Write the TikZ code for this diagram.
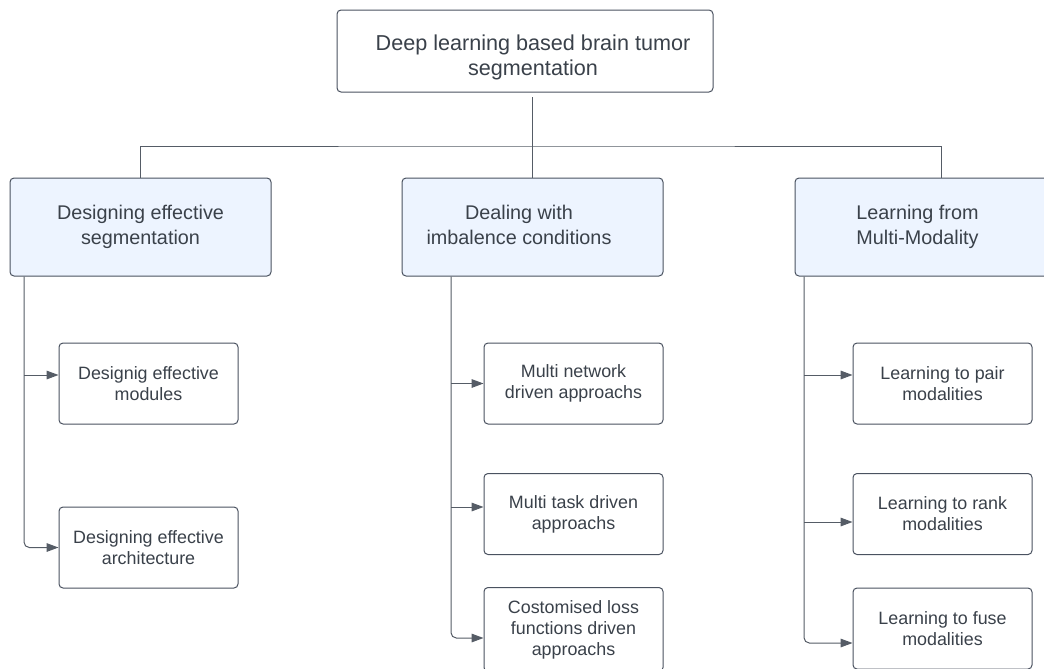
\documentclass[tikz,border=0pt]{standalone}
\usepackage{fontspec}
\setmainfont{Liberation Sans}
\usetikzlibrary{arrows.meta,calc}
\definecolor{ink}{HTML}{3A414A}
\definecolor{edge}{HTML}{4A5260}
\definecolor{catfill}{HTML}{EDF4FF}
\definecolor{wire}{HTML}{555C66}
\begin{document}
\begin{tikzpicture}[x=0.75pt,y=-0.75pt,
  box/.style={draw=edge, line width=0.75pt, rounded corners=3pt, fill=white, inner sep=0pt, text=ink, align=center},
  topbox/.style={box, minimum width=282pt, minimum height=61.5pt},
  catbox/.style={box, fill=catfill, minimum width=195.75pt, minimum height=73.5pt, font=\fontsize{14.85}{18.75}\selectfont},
  subbox/.style={box, minimum width=134.25pt, minimum height=60.75pt, font=\fontsize{13.4}{15.75}\selectfont},
  txt/.style={text=ink, align=center, inner sep=0pt},
  wire/.style={draw=wire, line width=0.75pt},
  arr/.style={wire, -{Triangle[length=9pt,width=6.5pt]}, rounded corners=4pt}
]
\useasboundingbox (0,0) rectangle (1044,668);
\clip (0,0) rectangle (1044,668);

% root
\node[topbox] (top) at (525,51) {};
\node[txt, font=\fontsize{16.2}{18.75}\selectfont] (toptext) at (533,57.5) {Deep learning based brain tumor\\segmentation};

% categories
\node[catbox] (cat1) at (140.5,227) {Designing effective\\segmentation};
\node[catbox] (cat2) at (532.5,227) {};
\node[txt, font=\fontsize{14.85}{18.75}\selectfont] (cat2text) at (519,225) {Dealing with\\imbalence conditions};
\node[catbox] (cat3) at (925.5,227) {};
\node[txt, font=\fontsize{14.85}{18.75}\selectfont] (cat3text) at (917.5,227) {Learning from\\Multi-Modality};

% sub nodes
\node[subbox] (s11) at (148.5,383.5) {Designig effective\\modules};
\node[subbox] (s12) at (148.5,547.5) {Designing effective\\architecture};
\node[subbox] (s21) at (573.5,383.5) {Multi network\\driven approachs};
\node[subbox] (s22) at (573.5,514) {Multi task driven\\approachs};
\node[subbox, minimum height=63pt] (s23) at (573.5,629.5) {Costomised loss\\functions driven\\approachs};
\node[subbox] (s31) at (942.5,383.5) {Learning to pair\\modalities};
\node[subbox] (s32) at (942.5,514) {Learning to rank\\modalities};
\node[subbox] (s33) at (942.5,628.5) {Learning to fuse\\modalities};

% top connectors
\coordinate (bus) at (532.5,146);
\coordinate (c3in) at (941,178);
\coordinate (rootout) at (532.5,97);
\draw[wire] (rootout) -- (cat2.north);
\draw[wire] (cat1.north) |- (bus) -| (c3in);

% branch 1
\coordinate (b1) at (24,276.5);
\coordinate (a11) at (24,375);
\coordinate (a12) at (24,547.5);
\draw[arr] (b1) |- (s12.west |- a12);
\draw[arr] (a11) -- (s11.west |- a11);

% branch 2
\coordinate (b2) at (451,276.5);
\coordinate (a21) at (451,383.5);
\coordinate (a22) at (451,507);
\coordinate (a23) at (451,638);
\draw[arr] (b2) |- (s23.west |- a23);
\draw[arr] (a21) -- (s21.west |- a21);
\draw[arr] (a22) -- (s22.west |- a22);

% branch 3
\coordinate (b3) at (804,276.5);
\coordinate (a31) at (804,375);
\coordinate (a32) at (804,522);
\coordinate (a33) at (804,643);
\draw[arr] (b3) |- (s33.west |- a33);
\draw[arr] (a31) -- (s31.west |- a31);
\draw[arr] (a32) -- (s32.west |- a32);
\end{tikzpicture}
\end{document}
